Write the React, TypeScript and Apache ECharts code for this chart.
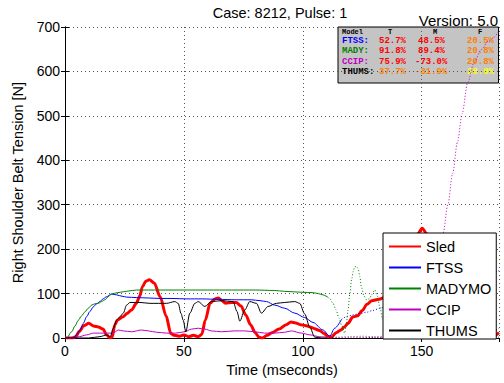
import React, { useEffect, useRef } from "react";
import * as echarts from "echarts";

// ---- Data (time in ms, tension in N) ----
const sledT = [0, 3, 4.5, 6, 8, 10, 12, 14, 16, 17.5, 19, 19.8, 21, 22, 24.5, 26, 28, 30, 31.5, 32.5, 34, 35.5, 37.5, 40, 42.5, 44.5, 46, 48, 50, 52, 54, 56, 57.5, 59, 61, 63, 64.5, 66, 67.5, 70, 72, 74, 76, 78, 80, 81.5, 83, 85, 87, 90, 93, 95, 97, 99, 101, 103, 105, 107, 109, 110.5, 112, 114, 116, 117.5, 119, 121, 123, 125, 127, 129, 132, 135, 138, 141, 144, 146.5, 148.5, 150.2, 152, 154, 157, 161, 165, 169, 173, 176, 178, 180, 182.5];
const sledV = [0, 0, 3, 15, 28, 33, 27, 25, 20, 7, 0, 2, 30, 40, 48, 55, 63, 78, 95, 115, 128, 131, 124, 93, 50, 10, 6, 4, 7, 3, 6, 3, 8, 40, 78, 88, 90, 84, 78, 80, 80, 72, 52, 30, 12, 2, 0, 6, 12, 20, 30, 36, 34, 30, 28, 25, 21, 17, 10, 4, 2, 12, 18, 25, 33, 47, 50, 62, 76, 84, 87, 92, 105, 130, 170, 210, 236, 247, 236, 205, 160, 110, 65, 35, 15, 5, 1, 4, 12];

const ftssT = [0, 3.5, 5, 6.3, 7.7, 9.1, 10.5, 11.9, 13.3, 14.7, 16, 17.5, 19.6, 21.7, 24, 26, 30, 35, 40, 45, 51, 58, 64.4, 72, 78.4, 82, 84.7, 88.2, 92.4, 96.6, 100.8, 104.3, 108.5, 111.3, 113.4, 116.3];
const ftssV = [0, 0, 8, 18, 33, 48, 60, 70, 77, 82, 88, 93, 99, 97, 94, 92, 91, 90, 89, 89, 88, 88, 87, 86, 86, 84, 82, 74, 67, 56, 46, 35, 18, 4, 22, 42];
const ftssExtT = [116.3, 118, 121, 124, 126.8, 129.5, 132.4, 138, 145, 152, 160, 168, 175, 182.5];
const ftssExtV = [42, 47, 52, 55, 58, 62, 67, 78, 90, 102, 115, 128, 140, 152];

const madyT = [0, 0.7, 2.8, 4.2, 5.6, 7, 8.4, 9.8, 11.2, 12.6, 14, 15.4, 16.8, 18.2, 19.6, 22, 24.5, 27, 30, 40, 50, 60, 70, 80, 88, 92.4, 96, 99.4, 104.3, 106.5, 108.5, 110.5];
const madyV = [0, 0, 14, 27, 40, 50, 59, 67, 74, 77, 78, 82, 86, 93, 99, 102, 104, 106, 108, 108, 108, 108, 108, 108, 107, 105, 104, 103, 102, 100, 97, 92];
const madyExtT = [110.5, 111.3, 112.7, 114, 115.2, 116.3, 117.6, 118.3, 119, 119.8, 120.5, 121.2, 121.8, 122.5, 123.2, 124, 124.6, 125.7, 126.8, 128, 129, 130.3, 131.3, 132.4, 133.5, 135, 137, 140, 150, 160, 170, 182.5];
const madyExtV = [92, 89, 78, 63, 45, 29, 11, 30, 63, 100, 131, 150, 160, 161, 157, 138, 116, 95, 86, 88, 98, 108, 95, 70, 45, 20, 6, 3, 2, 2, 2, 2];

const ccipT = [0, 4, 6, 9.1, 11.9, 15, 17.5, 20.3, 22.4, 24.5, 28, 32.2, 35, 38.5, 42.7, 46.5, 50.4, 53.2, 56, 58.8, 61.6, 65.8, 71.4, 75.6, 79.8, 84, 88.2, 92.4, 95.2, 99.4, 103, 107, 110];
const ccipV = [0, 1, 3, 7, 11, 11, 11, 11, 18, 16, 14, 18, 16, 13, 11, 11, 14, 20, 22, 20, 16, 14, 16, 16, 14, 11, 11, 13, 16, 11, 7, 3, 2];
const ccipExtT = [110, 115, 120, 125, 130, 135, 140, 144, 147, 149.5, 152, 154.5, 157, 159, 161, 163, 165, 167, 169.3, 172, 175, 178, 182.5];
const ccipExtV = [2, 2, 3, 4, 3, 4, 5, 8, 20, 45, 90, 140, 190, 236, 300, 370, 440, 505, 574, 620, 649, 668, 690];

const thumsT = [0, 10, 14.7, 17.5, 19, 20.3, 21.7, 23.1, 24.5, 25.9, 27.3, 31.5, 35.7, 42.7, 46.2, 47.6, 48.8, 49.7, 50.8, 52.5, 54.6, 56, 58.8, 61.6, 65.8, 70.7, 72.3, 73.5, 75.6, 77.7, 80.5, 82.6, 85.4, 88.9, 92.4, 96.6, 98.7, 100.8, 102.9, 105, 108, 110];
const thumsV = [0, 0, 3, 7, 3, 22, 40, 48, 56, 74, 80, 80, 78, 78, 82, 78, 55, 40, 14, 56, 78, 82, 71, 82, 84, 82, 60, 38, 63, 82, 78, 56, 71, 78, 80, 82, 78, 54, 25, 2, 0, 0];
const thumsExtT = [110, 120, 130, 140, 150, 160, 170, 176, 179, 182.5];
const thumsExtV = [0, 0, 1, 1, 1, 1, 2, 4, 12, 22];

const legendNames = ["Sled", "FTSS", "MADYMO", "CCIP", "THUMS"];
const yTicks = [0, 100, 200, 300, 400, 500, 600, 700];
const xTicks = [0, 50, 100, 150];

const tableHeader = ["Model", "T", "M", "F"];
const tableRows = [
  ["FTSS:", "52.7%", "48.5%", "20.5%"],
  ["MADY:", "91.8%", "89.4%", "20.8%"],
  ["CCIP:", "75.9%", "-73.0%", "20.8%"],
  ["THUMS:", "37.7%", "-31.9%", "20.0%"],
];
const tableColors = [
  ["#0000ff", "#ff0000", "#ff0000", "#ff8000"],
  ["#008000", "#ff0000", "#ff0000", "#ff8000"],
  ["#bf00bf", "#ff0000", "#ff0000", "#ff8000"],
  ["#000000", "#ff8000", "#ff8000", "#ffff00"],
];

const zip = (t: number[], v: number[]) => t.map((x, i) => [x, v[i]]);

const FONT = "'Liberation Sans', Arial, sans-serif";
const MONO = "'Liberation Mono', 'DejaVu Sans Mono', monospace";

export default function App() {
  const ref = useRef<HTMLDivElement>(null);
  useEffect(() => {
    const chart = echarts.init(ref.current!, null, { renderer: "svg" });
    const solid = (name: string, t: number[], v: number[], color: string, width: number) => ({
      type: "line",
      name,
      data: zip(t, v),
      symbol: "none",
      smooth: 0.3,
      smoothMonotone: "x",
      lineStyle: { color, width },
      itemStyle: { color },
      xAxisIndex: 0,
      yAxisIndex: 0,
    });
    const dotted = (name: string, t: number[], v: number[], color: string) => ({
      type: "line",
      name,
      data: zip(t, v),
      symbol: "none",
      smooth: 0.3,
      smoothMonotone: "x",
      lineStyle: { color, width: 1, type: [1, 2] },
      itemStyle: { color },
      xAxisIndex: 0,
      yAxisIndex: 0,
    });

    const colX = [342, 379, 415, 467];
    const rowY = [40.5, 51, 61.5, 72];
    const tableTexts: any[] = [];
    tableRows.forEach((row, r) => {
      row.forEach((cell, c) => {
        let x = colX[c];
        if (c === 2 && !cell.startsWith("-")) x = 418;
        tableTexts.push({
          type: "text",
          x,
          y: rowY[r],
          style: {
            text: cell,
            fill: tableColors[r][c],
            font: `bold 9px ${MONO}`,
            verticalAlign: "middle",
          },
        });
      });
    });
    const headerX = [342, 388, 433, 478];
    tableHeader.forEach((h, i) => {
      tableTexts.push({
        type: "text",
        x: headerX[i],
        y: 31.5,
        style: { text: h, fill: "#000", font: `bold 7px ${MONO}`, verticalAlign: "middle" },
      });
    });

    const gridLine = { show: true, lineStyle: { color: "#555", width: 1, type: [1, 3] } };
    const axisLine = { show: true, lineStyle: { color: "#000", width: 1 } };

    chart.setOption({
      animation: false,
      backgroundColor: "#fff",
      textStyle: { fontFamily: FONT },
      grid: { left: 65, right: 5, top: 27, bottom: 45, containLabel: false },
      xAxis: [
        {
          type: "value",
          min: 0,
          max: 182.5,
          interval: 50,
          position: "bottom",
          axisLine,
          axisTick: { show: true, inside: true, length: 4, lineStyle: { color: "#000" } },
          axisLabel: {
            color: "#000",
            fontSize: 14,
            fontFamily: FONT,
            margin: 6,
            showMaxLabel: false,
            formatter: (v: number) => (xTicks.includes(v) ? String(v) : ""),
          },
          splitLine: gridLine,
          name: "Time (mseconds)",
          nameLocation: "middle",
          nameGap: 23,
          nameTextStyle: { color: "#000", fontSize: 14.5, fontFamily: FONT },
        },
        {
          type: "value",
          min: 0,
          max: 182.5,
          interval: 50,
          position: "top",
          axisLine,
          axisTick: { show: true, inside: true, length: 4, lineStyle: { color: "#000" } },
          axisLabel: { show: false },
          splitLine: { show: false },
        },
      ],
      yAxis: [
        {
          type: "value",
          min: 0,
          max: 700,
          interval: 100,
          position: "left",
          axisLine,
          axisTick: { show: true, inside: true, length: 4, lineStyle: { color: "#000" } },
          axisLabel: {
            color: "#000",
            fontSize: 14,
            fontFamily: FONT,
            margin: 5,
            formatter: (v: number) => (yTicks.includes(v) ? String(v) : ""),
          },
          splitLine: gridLine,
          name: "Right Shoulder Belt Tension [N]",
          nameLocation: "middle",
          nameGap: 34,
          nameTextStyle: { color: "#000", fontSize: 14.5, fontFamily: FONT },
        },
        {
          type: "value",
          min: 0,
          max: 700,
          interval: 100,
          position: "right",
          axisLine,
          axisTick: { show: true, inside: true, length: 4, lineStyle: { color: "#000" } },
          axisLabel: { show: false },
          splitLine: { show: false },
        },
      ],
      legend: {
        data: legendNames,
        orient: "vertical",
        left: 383,
        top: 233,
        itemWidth: 32,
        itemHeight: 14,
        itemGap: 6,
        padding: [6, 5, 1, 5],
        backgroundColor: "#fff",
        borderColor: "#000",
        borderWidth: 1,
        borderRadius: 0,
        itemStyle: { color: "rgba(0,0,0,0)", borderWidth: 0, opacity: 0 },
        textStyle: { color: "#000", fontSize: 14.5, fontFamily: FONT },
        selectedMode: false,
      },
      graphic: [
        {
          type: "rect",
          shape: { x: 338, y: 27, width: 160.5, height: 56 },
          style: { fill: "#c4c4c4", stroke: "#000", lineWidth: 1 },
        },
        ...tableTexts,
        {
          type: "text",
          x: 280,
          y: 12.5,
          style: { text: "Case: 8212, Pulse: 1", fill: "#000", font: `14.5px ${FONT}`, align: "center", verticalAlign: "middle" },
        },
        {
          type: "text",
          x: 498,
          y: 20,
          style: { text: "Version: 5.0", fill: "#000", font: `15px ${FONT}`, align: "right", verticalAlign: "middle" },
        },
      ],
      series: [
        solid("Sled", sledT, sledV, "#ff0000", 3),
        solid("FTSS", ftssT, ftssV, "#0000ff", 1),
        solid("MADYMO", madyT, madyV, "#008000", 1),
        solid("CCIP", ccipT, ccipV, "#bf00bf", 1),
        solid("THUMS", thumsT, thumsV, "#000000", 1),
        dotted("FTSS ext", ftssExtT, ftssExtV, "#0000ff"),
        dotted("MADYMO ext", madyExtT, madyExtV, "#008000"),
        dotted("CCIP ext", ccipExtT, ccipExtV, "#bf00bf"),
        dotted("THUMS ext", thumsExtT, thumsExtV, "#000000"),
      ],
    });
    return () => chart.dispose();
  }, []);
  return <div ref={ref} style={{ position: "absolute", left: 0, top: 0, width: 504, height: 383 }} />;
}
